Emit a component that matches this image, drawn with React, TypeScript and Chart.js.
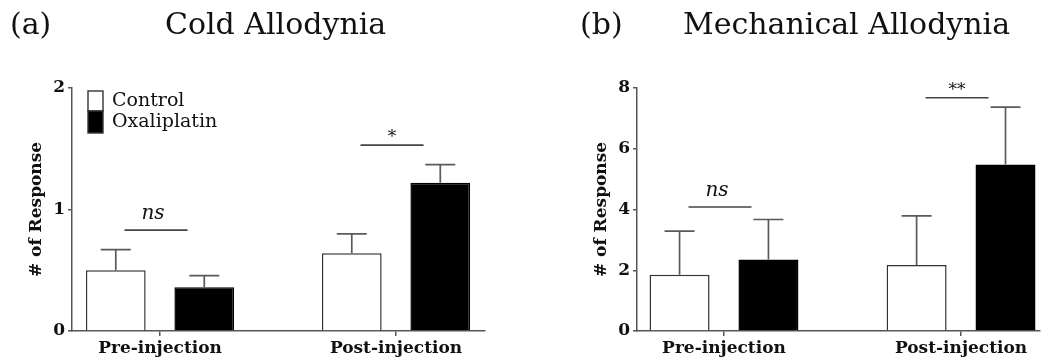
import React, { useEffect, useRef } from 'react';
import { Chart, registerables } from 'chart.js';

Chart.register(...registerables);

// ---------- data ----------
const categories = ['Pre-injection', 'Post-injection'];
const seriesNames = ['Control', 'Oxaliplatin'];

const coldControl = [0.5, 0.64];
const coldControlErr = [0.17, 0.16];
const coldOxali = [0.36, 1.22];
const coldOxaliErr = [0.095, 0.15];
const coldTicks = [0, 1, 2];
const coldSigLabels = ['ns', '*'];
const coldSigY = [0.83, 1.53];

const mechControl = [1.85, 2.17];
const mechControlErr = [1.44, 1.62];
const mechOxali = [2.35, 5.48];
const mechOxaliErr = [1.32, 1.89];
const mechTicks = [0, 2, 4, 6, 8];
const mechSigLabels = ['ns', '**'];
const mechSigY = [4.08, 7.68];

const SERIF = '"DejaVu Serif", "Liberation Serif", serif';
const AXIS = '#555555';

const annotPlugin = {
  id: 'annot',
  afterDatasetsDraw(chart: any, _args: any, opts: any) {
    const ctx = chart.ctx;
    const ys = chart.scales.y;
    const xs = chart.scales.x;
    ctx.save();
    // error bars
    ctx.strokeStyle = '#5a5a5a';
    ctx.lineWidth = 1.7;
    chart.data.datasets.forEach((ds: any, di: number) => {
      const meta = chart.getDatasetMeta(di);
      meta.data.forEach((bar: any, j: number) => {
        const v = ds.data[j].y;
        const e = opts.errors[di][j];
        const top = ys.getPixelForValue(v + e);
        const base = ys.getPixelForValue(v);
        ctx.beginPath();
        ctx.moveTo(bar.x, base);
        ctx.lineTo(bar.x, top);
        ctx.moveTo(bar.x - 15, top);
        ctx.lineTo(bar.x + 15, top);
        ctx.stroke();
      });
    });
    // significance
    ctx.strokeStyle = '#444';
    ctx.lineWidth = 1.6;
    ctx.fillStyle = '#111';
    ctx.textAlign = 'center';
    ctx.textBaseline = 'alphabetic';
    opts.sigLabels.forEach((lab: string, j: number) => {
      const cx = xs.getPixelForValue(j) - 4;
      const y = ys.getPixelForValue(opts.sigY[j]);
      ctx.beginPath();
      ctx.moveTo(cx - 31.5, y);
      ctx.lineTo(cx + 31.5, y);
      ctx.stroke();
      if (lab === 'ns') {
        ctx.font = 'italic 20px ' + SERIF;
        ctx.fillText(lab, cx - 3, y - 11);
      } else {
        ctx.font = '17px ' + SERIF;
        ctx.fillText(lab, cx, y - 3);
      }
    });
    // legend
    if (opts.legend) {
      const lx = chart.chartArea.left + 16;
      const ly = chart.chartArea.top + 3;
      const heights = [20, 22];
      let yy = ly;
      chart.data.datasets.forEach((ds: any, di: number) => {
        ctx.fillStyle = ds.backgroundColor;
        ctx.fillRect(lx, yy, 15, heights[di]);
        ctx.strokeStyle = '#333';
        ctx.lineWidth = 1.4;
        ctx.strokeRect(lx, yy, 15, heights[di]);
        ctx.fillStyle = '#111';
        ctx.font = '19px ' + SERIF;
        ctx.textAlign = 'left';
        ctx.textBaseline = 'middle';
        ctx.fillText(ds.label, lx + 24, yy + heights[di] / 2);
        yy += heights[di];
      });
    }
    ctx.restore();
  },
};

type PanelProps = {
  left: number;
  width: number;
  control: number[];
  controlErr: number[];
  oxali: number[];
  oxaliErr: number[];
  yTicks: number[];
  sigLabels: string[];
  sigY: number[];
  xMin: number;
  xMax: number;
  axisWidth: number;
  rightPad: number;
  titlePad: number;
  legend: boolean;
};

function Panel(p: PanelProps) {
  const ref = useRef<HTMLCanvasElement>(null);
  useEffect(() => {
    if (!ref.current) return;
    const chart = new Chart(ref.current, {
      type: 'bar',
      data: {
        datasets: [
          {
            label: seriesNames[0],
            data: p.control.map((v, i) => ({ x: i, y: v })),
            backgroundColor: '#ffffff',
            borderColor: '#333333',
            borderWidth: 1.5,
            categoryPercentage: 0.75,
            barPercentage: 0.675,
          },
          {
            label: seriesNames[1],
            data: p.oxali.map((v, i) => ({ x: i, y: v })),
            backgroundColor: '#000000',
            borderColor: '#000000',
            borderWidth: 1.5,
            categoryPercentage: 0.75,
            barPercentage: 0.675,
          },
        ],
      },
      options: {
        animation: false,
        responsive: false,
        layout: { padding: { top: 88, right: p.rightPad, left: 0, bottom: 0 } },
        plugins: {
          legend: { display: false },
          tooltip: { enabled: false },
          title: { display: false },
          annot: {
            errors: [p.controlErr, p.oxaliErr],
            sigLabels: p.sigLabels,
            sigY: p.sigY,
            legend: p.legend,
          },
        } as any,
        scales: {
          x: {
            type: 'linear',
            min: p.xMin,
            max: p.xMax,
            offset: false,
            afterBuildTicks: (s: any) => {
              s.ticks = categories.map((_, i) => ({ value: i }));
            },
            afterFit: (s: any) => {
              s.height = 30;
            },
            ticks: {
              callback: (v: any) => categories[v] ?? '',
              color: '#111',
              font: { family: SERIF, size: 17, weight: 'bold' },
              padding: 2,
              maxRotation: 0,
              autoSkip: false,
            },
            grid: { offset: false, drawOnChartArea: false, drawTicks: true, tickLength: 5, color: AXIS, lineWidth: 1.5 },
            border: { display: true, color: AXIS, width: 1.5 },
          },
          y: {
            min: p.yTicks[0],
            max: p.yTicks[p.yTicks.length - 1],
            afterBuildTicks: (s: any) => {
              s.ticks = p.yTicks.map((v) => ({ value: v }));
            },
            afterFit: (s: any) => {
              s.width = p.axisWidth;
            },
            ticks: {
              color: '#111',
              font: { family: SERIF, size: 17, weight: 'bold' },
              padding: 3,
            },
            title: {
              display: true,
              text: '# of Response',
              color: '#111',
              font: { family: SERIF, size: 17, weight: 'bold' },
              padding: { top: p.titlePad, bottom: 0 },
            },
            grid: { drawOnChartArea: false, drawTicks: true, tickLength: 4, color: AXIS, lineWidth: 1.5 },
            border: { display: true, color: AXIS, width: 1.5 },
          },
        },
      },
      plugins: [annotPlugin as any],
    });
    return () => chart.destroy();
  }, []);
  return (
    <canvas
      ref={ref}
      width={p.width}
      height={361}
      style={{ position: 'absolute', left: p.left, top: 0, width: p.width, height: 361 }}
    />
  );
}

const titleStyle: React.CSSProperties = {
  position: 'absolute',
  top: 8,
  fontFamily: SERIF,
  fontSize: 30,
  lineHeight: '32px',
  color: '#111',
  whiteSpace: 'nowrap',
  margin: 0,
};

export default function App() {
  return (
    <div style={{ position: 'absolute', left: 0, top: 0, width: 1041, height: 361, background: '#fff', overflow: 'hidden' }}>
      <Panel
        left={0}
        width={520}
        control={coldControl}
        controlErr={coldControlErr}
        oxali={coldOxali}
        oxaliErr={coldOxaliErr}
        yTicks={coldTicks}
        sigLabels={coldSigLabels}
        sigY={coldSigY}
        xMin={-0.373}
        xMax={1.377}
        axisWidth={72}
        rightPad={35}
        titlePad={26}
        legend={true}
      />
      <Panel
        left={520}
        width={521}
        control={mechControl}
        controlErr={mechControlErr}
        oxali={mechOxali}
        oxaliErr={mechOxaliErr}
        yTicks={mechTicks}
        sigLabels={mechSigLabels}
        sigY={mechSigY}
        xMin={-0.367}
        xMax={1.333}
        axisWidth={117}
        rightPad={1}
        titlePad={71}
        legend={false}
      />
      <div style={{ ...titleStyle, left: 10 }}>(a)</div>
      <div style={{ ...titleStyle, left: 165 }}>Cold Allodynia</div>
      <div style={{ ...titleStyle, left: 580 }}>(b)</div>
      <div style={{ ...titleStyle, left: 683 }}>Mechanical Allodynia</div>
    </div>
  );
}
